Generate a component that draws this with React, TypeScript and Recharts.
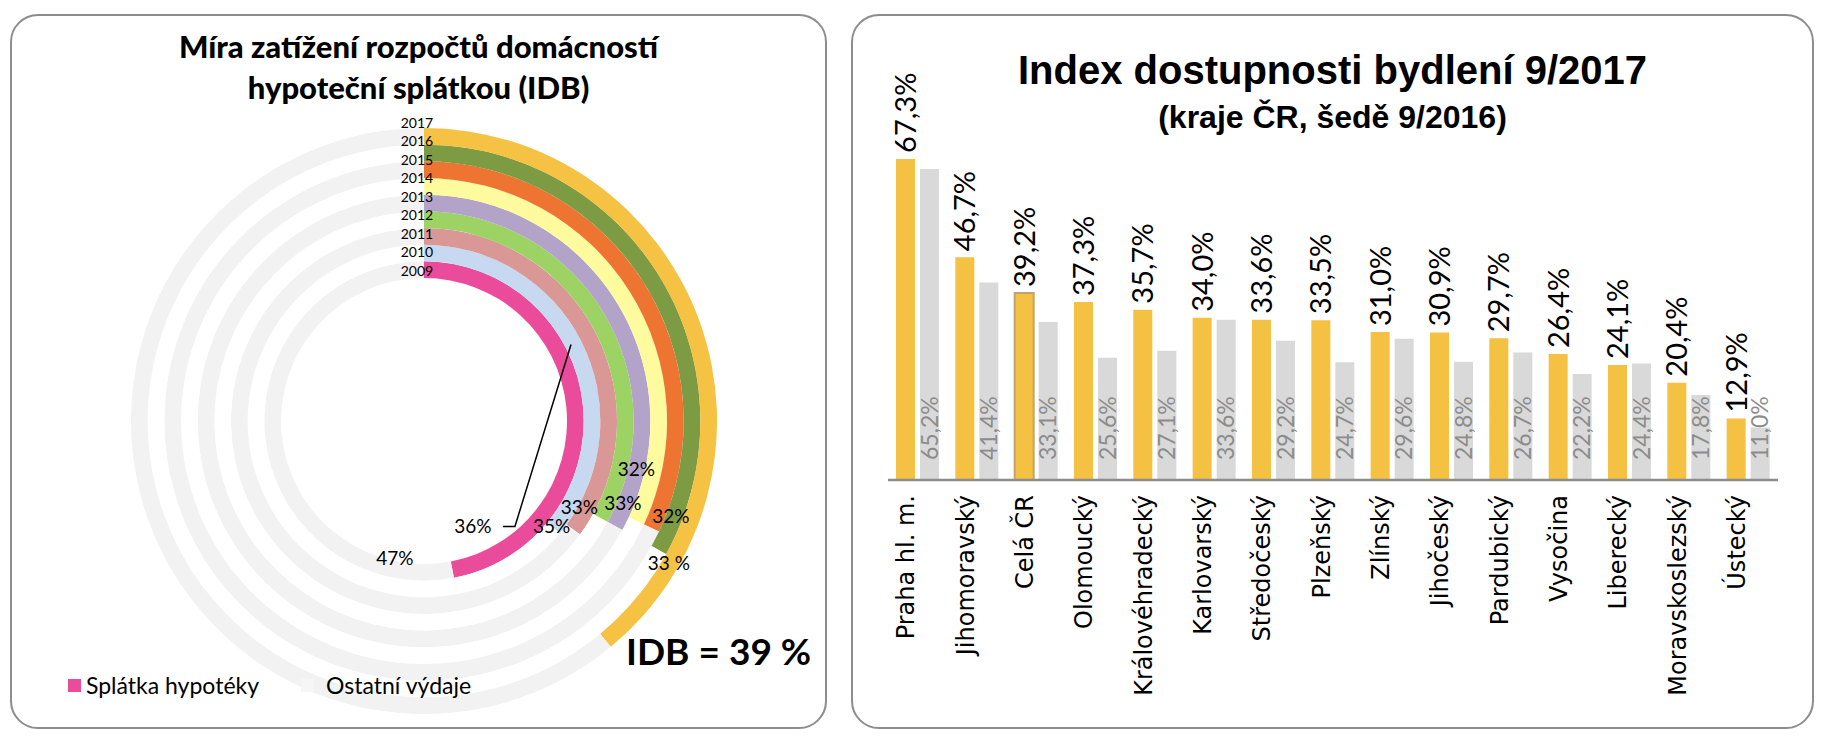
import React from 'react';
import { PieChart, Pie, Cell, BarChart, Bar, XAxis, YAxis, LabelList } from 'recharts';

// left chart: share of household budget taken by the mortgage payment
const years = ['2009', '2010', '2011', '2012', '2013', '2014', '2015', '2016', '2017'];
const mortgageShare = [47, 36, 35, 33, 33, 32, 32, 33, 39];
const ringColors = ['#ea4c9b', '#c6d9f1', '#d99795', '#9dd264', '#b3a3c8', '#fefa9e', '#ee7531', '#7d9b43', '#f5c244'];
const legendNames = ['Splátka hypotéky', 'Ostatní výdaje'];

// right chart: housing affordability index by region
const regions = [
  'Praha hl. m.', 'Jihomoravský', 'Celá ČR', 'Olomoucký', 'Královéhradecký', 'Karlovarský',
  'Středočeský', 'Plzeňský', 'Zlínský', 'Jihočeský', 'Pardubický', 'Vysočina', 'Liberecký',
  'Moravskoslezský', 'Ústecký',
];
const index2017 = [67.3, 46.7, 39.2, 37.3, 35.7, 34.0, 33.6, 33.5, 31.0, 30.9, 29.7, 26.4, 24.1, 20.4, 12.9];
const index2016 = [65.2, 41.4, 33.1, 25.6, 27.1, 33.6, 29.2, 24.7, 29.6, 24.8, 26.7, 22.2, 24.4, 17.8, 11.0];

// ring geometry
const CX = 419;
const CY = 416;
const R0 = 143;
const RW = 16.67;

// where each ring's % label sits, relative to the end of its coloured arc (deg clockwise, px)
const labelShift = [
  { da: 20.4, dr: -7 },
  { da: 24.4, dr: -45 },
  { da: 3.8, dr: -12 },
  { da: 0.8, dr: -17 },
  { da: -5.5, dr: 4 },
  { da: -11.5, dr: -11 },
  { da: -3.4, dr: 20 },
  { da: 1.7, dr: 22 },
];

const polar = (deg: number, r: number) => {
  const a = (deg * Math.PI) / 180;
  return [CX + r * Math.sin(a), CY - r * Math.cos(a)];
};

const ringData = mortgageShare.map((p) => [
  { name: legendNames[0], value: p },
  { name: legendNames[1], value: 100 - p },
]);

const barData = regions.map((name, i) => ({ name, y2017: index2017[i], y2016: index2016[i] }));

const fmt = (v: number) => v.toFixed(1).replace('.', ',') + '%';

const calibri = 'Lato, "Open Sans", sans-serif';

const RegionTick = (props: any) => {
  const { x, y, payload } = props;
  const ax = x - 12;
  const ay = y + 7;
  return (
    <text x={ax} y={ay} transform={`rotate(-90, ${ax}, ${ay})`} textAnchor="end" dy="0.36em"
      fontFamily="DejaVu Sans" fontSize={24} fill="#000">
      {payload.value}
    </text>
  );
};

const TopLabel = (props: any) => {
  const { x, y, width, value } = props;
  const ax = x + width / 2;
  const ay = y - 6;
  return (
    <text x={ax} y={ay} transform={`rotate(-90, ${ax}, ${ay})`} textAnchor="start" dy="0.36em"
      fontFamily={calibri} fontSize={29} fill="#000">
      {fmt(value)}
    </text>
  );
};

const BottomLabel = (props: any) => {
  const { x, y, width, height, value } = props;
  const ax = x + width / 2;
  const ay = y + height - 20;
  return (
    <text x={ax} y={ay} transform={`rotate(-90, ${ax}, ${ay})`} textAnchor="start" dy="0.36em"
      fontFamily={calibri} fontSize={23} fill="#8c8c8c">
      {fmt(value)}
    </text>
  );
};

const panel = (left: number, width: number): React.CSSProperties => ({
  position: 'absolute', left, top: 14, width, height: 715, boxSizing: 'border-box',
  border: '2px solid #8d8d8d', borderRadius: 28, background: '#fff',
});

export default function App() {
  return (
    <div style={{ position: 'absolute', left: 0, top: 0, width: 1828, height: 748, background: '#fff', overflow: 'hidden' }}>
      <div style={panel(10, 817)} />
      <div style={panel(851, 963)} />

      <div style={{ position: 'absolute', left: 10, top: 26, width: 817, textAlign: 'center', fontFamily: calibri,
        fontWeight: 900, fontSize: 31, lineHeight: '41px', color: '#000' }}>
        Míra zatížení rozpočtů domácností<br />hypoteční splátkou (IDB)
      </div>

      <div style={{ position: 'absolute', left: 0, top: 0 }}>
        <PieChart width={840} height={748}>
          {ringData.map((d, k) => (
            <Pie key={years[k]} data={d} dataKey="value" cx={CX} cy={CY}
              innerRadius={R0 + k * RW} outerRadius={R0 + (k + 1) * RW}
              startAngle={90} endAngle={-270} stroke="none" labelLine={false} isAnimationActive={false}>
              <Cell fill={ringColors[k]} />
              <Cell fill={k % 2 === 0 ? '#f2f2f2' : '#ffffff'} />
            </Pie>
          ))}
        </PieChart>
      </div>

      <svg width={840} height={748} style={{ position: 'absolute', left: 0, top: 0, pointerEvents: 'none' }}>
        {years.map((yr, k) => (
          <text key={yr} x={CX - 2} y={CY - (R0 + 2 + k * 18.5)} textAnchor="middle" dy="0.35em"
            fontFamily={calibri} fontSize={14} fill="#000">{yr}</text>
        ))}
        {labelShift.map((s, k) => {
          const end = (mortgageShare[k] / 100) * 360;
          const rMid = R0 + (k + 0.5) * RW;
          const [lx, ly] = polar(end + s.da, rMid + s.dr);
          const txt = k === 7 ? `${mortgageShare[k]} %` : `${mortgageShare[k]}%`;
          let leader = null;
          if (k === 1) {
            const [px, py] = polar(end / 2, rMid);
            leader = <polyline points={`${lx + 30},${ly} ${lx + 42},${ly} ${px},${py}`} fill="none" stroke="#000" strokeWidth={1.5} />;
          }
          return (
            <g key={k}>
              {leader}
              <text x={lx} y={ly} textAnchor="middle" dy="0.35em" fontFamily={calibri} fontSize={19} fill="#000">{txt}</text>
            </g>
          );
        })}
      </svg>

      <div style={{ position: 'absolute', left: 626, top: 628, fontFamily: calibri, fontWeight: 700, fontSize: 37, color: '#000', whiteSpace: 'nowrap' }}>
        IDB = {mortgageShare[8]} %
      </div>

      <div style={{ position: 'absolute', left: 68, top: 671, display: 'flex', alignItems: 'center', fontFamily: calibri, fontSize: 23, color: '#000', whiteSpace: 'nowrap' }}>
        <span style={{ width: 13, height: 13, background: ringColors[0], display: 'inline-block', marginRight: 5 }} />
        <span>{legendNames[0]}</span>
        <span style={{ width: 13, height: 13, background: '#f6f6f6', display: 'inline-block', marginLeft: 42, marginRight: 12 }} />
        <span>{legendNames[1]}</span>
      </div>

      <div style={{ position: 'absolute', left: 851, top: 47, width: 963, textAlign: 'center', fontFamily: '"Liberation Sans Narrow", "Liberation Sans", Arial, sans-serif',
        fontWeight: 700, color: '#000', whiteSpace: 'nowrap' }}>
        <div style={{ fontSize: 40, lineHeight: '46px' }}>Index dostupnosti bydlení 9/2017</div>
        <div style={{ fontSize: 32, lineHeight: '38px', marginTop: 5 }}>(kraje ČR, šedě 9/2016)</div>
      </div>

      <div style={{ position: 'absolute', left: 851, top: 14 }}>
        <BarChart width={963} height={716} data={barData} barGap={5}
          margin={{ top: 132, right: 36, bottom: 0, left: 37 }}>
          <XAxis dataKey="name" interval={0} height={250} tickLine={false}
            axisLine={{ stroke: '#8c8c8c', strokeWidth: 2.5 }} tick={<RegionTick />} />
          <YAxis hide domain={[0, 70]} />
          <Bar dataKey="y2017" fill="#f5c142" barSize={19} isAnimationActive={false}>
            {barData.map((d, i) => (
              <Cell key={d.name} fill="#f5c142" stroke={i === 2 ? '#bfa46c' : 'none'} strokeWidth={i === 2 ? 2 : 0} />
            ))}
            <LabelList dataKey="y2017" content={<TopLabel />} />
          </Bar>
          <Bar dataKey="y2016" fill="#d9d9d9" barSize={19} isAnimationActive={false}>
            <LabelList dataKey="y2016" content={<BottomLabel />} />
          </Bar>
        </BarChart>
      </div>
    </div>
  );
}
